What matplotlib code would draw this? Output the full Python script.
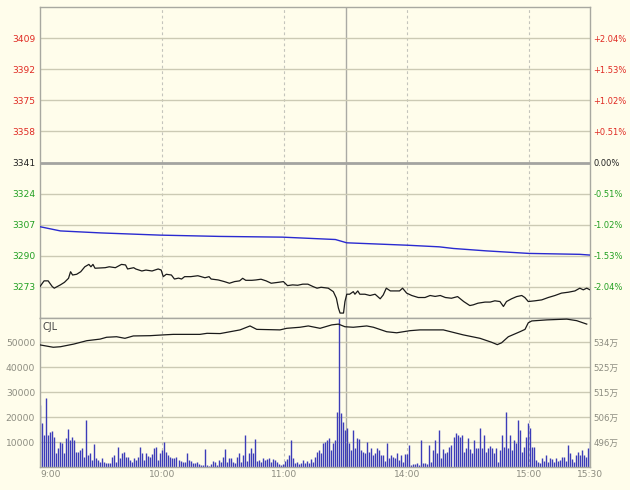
import matplotlib
matplotlib.use('Agg')
import matplotlib.pyplot as plt
import numpy as np

# ---------------- data ----------------
price_ticks = [3409, 3392, 3375, 3358, 3341, 3324, 3307, 3290, 3273]
price_tick_labels = ['3409', '3392', '3375', '3358', '3341', '3324', '3307', '3290', '3273']
pct_tick_labels = ['+2.04%', '+1.53%', '+1.02%', '+0.51%', '0.00%', '-0.51%', '-1.02%', '-1.53%', '-2.04%']
prev_close = 3341

time_ticks = [0, 60, 120, 180, 240, 270]
time_labels = ['9:00', '10:00', '11:00', '14:00', '15:00', '15:30']
session_break = 150

price_t = [0, 2, 4, 6, 7, 10, 12, 14, 15, 16, 18, 20, 22, 24, 25, 26, 27, 32, 34, 37,
           40, 42, 43, 46, 47, 50, 52, 55, 58, 59.5, 60.5, 62, 64.5, 66, 68, 69.5, 71, 74,
           77.5, 81, 83, 84, 87.5, 90.5, 93, 95.5, 98, 99.5, 101, 104, 106, 108.5, 111,
           113.5, 117, 119.5, 121.5, 124, 126.5, 129, 131.5, 134, 136, 138, 141.5, 144,
           145.5, 146.5, 147.3, 149, 149.7, 150.6, 152, 153.8, 154.6, 156, 157, 159.5, 162,
           164.5, 167, 168.5, 170, 172, 174.5, 176.5, 178, 180, 182.5, 185.7, 189, 191.5,
           194, 196.5, 199, 202, 205, 208, 211, 212.7, 215, 218.5, 221, 223.3, 225.8, 227.5,
           229, 231.5, 234, 236.5, 238, 239.7, 243, 246.3, 249.5, 252.8, 256, 259.4, 262.6,
           265, 266.7, 268.4, 270]
price = [3273.2, 3276.3, 3276.3, 3273.2, 3272.3, 3274.1, 3275.5, 3277.7, 3281.3, 3279.5,
         3279.9, 3281.3, 3284.0, 3285.3, 3284.0, 3285.3, 3283.2, 3283.5, 3284.0, 3283.5,
         3285.3, 3285.0, 3282.8, 3283.5, 3282.8, 3281.7, 3282.2, 3281.7, 3282.8, 3282.2,
         3278.6, 3279.9, 3279.5, 3277.3, 3277.8, 3277.3, 3278.6, 3278.6, 3279.1, 3278.0,
         3278.6, 3277.3, 3276.8, 3275.9, 3275.0, 3275.9, 3276.3, 3277.7, 3276.6, 3276.6,
         3276.8, 3277.2, 3276.3, 3275.0, 3275.5, 3275.9, 3273.7, 3274.1, 3273.9, 3274.5,
         3274.5, 3273.2, 3272.3, 3272.8, 3272.3, 3270.4, 3266.8, 3261.4, 3258.7, 3258.7,
         3265.0, 3269.0, 3269.0, 3270.4, 3269.0, 3270.8, 3269.0, 3269.0, 3268.3, 3269.0,
         3266.5, 3268.6, 3272.3, 3270.8, 3270.8, 3270.8, 3272.3, 3269.6, 3268.3, 3267.2,
         3267.2, 3268.3, 3267.8, 3268.3, 3267.2, 3266.8, 3267.7, 3265.0, 3262.8, 3263.2,
         3264.1, 3264.7, 3264.7, 3265.4, 3265.0, 3262.3, 3265.0, 3266.5, 3267.7, 3268.3,
         3267.2, 3265.0, 3265.4, 3265.9, 3267.2, 3268.3, 3269.6, 3270.1, 3270.8, 3272.3,
         3271.4, 3272.3, 3271.4]

avg_t = [0, 10, 30, 59, 88, 119, 145, 150.6, 180, 196, 203, 219, 240, 265, 270]
avg_price = [3305.9, 3303.6, 3302.5, 3301.3, 3300.6, 3300.2, 3298.9, 3297.1, 3295.8,
             3294.9, 3294.0, 3292.7, 3291.3, 3290.8, 3290.4]

volume = [24800, 17500, 12800, 27500, 12800, 14100, 14500, 12100, 5500, 7500,
          10100, 9500, 5500, 11500, 15100, 10800, 12100, 10800, 6100, 6100,
          6800, 7500, 4100, 18800, 4800, 5500, 2800, 9200, 3500, 2800,
          2100, 3500, 2100, 1500, 1700, 1500, 4100, 4800, 2100, 7900,
          3500, 5500, 6100, 4100, 4100, 2800, 2100, 3500, 2800, 4100,
          7900, 5500, 2800, 5700, 4400, 4100, 5200, 7500, 8100, 2800,
          5500, 6800, 10100, 6100, 4800, 4100, 3500, 3500, 4100, 2800,
          2500, 2100, 2100, 5500, 2800, 2500, 1700, 1500, 2100, 1200,
          800, 800, 7100, 800, 400, 1200, 2500, 2100, 800, 2800,
          2100, 4100, 7100, 2100, 3500, 3500, 2100, 1500, 4100, 5500,
          2100, 4800, 12800, 2500, 5500, 7500, 5500, 11100, 2500, 2800,
          2100, 3500, 2800, 3100, 3500, 2100, 3100, 2800, 2100, 1200,
          800, 1200, 2500, 3100, 4800, 10800, 3500, 1700, 2100, 1200,
          1700, 2800, 1700, 2500, 1700, 3100, 2100, 4100,
          6100, 6800, 5500, 9500, 10100, 10800, 11500, 6800, 9500, 10800,
          22100, 65000, 21500, 18100, 14800, 15500, 9500, 6800, 14800, 7500,
          11500, 11100, 6800, 6100, 5500, 10100, 6100, 7500, 4800, 5500,
          7500, 6800, 4800, 4800, 2500, 9500, 3500, 4800, 4100, 3500,
          5500, 2800, 4800, 2100, 5200, 5100, 8800, 800, 1200, 1200,
          1500, 800, 10800, 1500, 1500, 1200, 8800, 2100, 6800, 10800,
          5700, 14800, 3500, 7100, 5500, 6100, 8100, 8800, 12100, 13500,
          12800, 12100, 12800, 6100, 7500, 11500, 7100, 5500, 10800, 7500,
          7500, 15500, 7500, 12800, 6100, 7500, 8400, 7500, 5700, 7500,
          2100, 6800, 12800, 8100, 22100, 7500, 12800, 6800, 10800, 9500,
          18800, 14800, 6100, 8100, 12100, 17500, 15500, 8100, 8100, 2800,
          2100, 1700, 3500, 2500, 4800, 2100, 3500, 3100, 2100, 3500,
          2500, 2800, 4100, 4100, 2500, 8800, 5500, 3100, 2100, 4800,
          6100, 4800, 6800, 4800, 4100, 7500, 10100]

vol_ticks = [10000, 20000, 30000, 40000, 50000]
vol_tick_labels = ['10000', '20000', '30000', '40000', '50000']

oi_t = [0, 6.5, 10, 16.5, 23, 29.5, 32.7, 37.6, 41.7, 45.8, 54, 60.5, 65.4, 78.5, 82,
        88.4, 98.2, 103.1, 106.4, 117.8, 121.1, 127.6, 131.7, 137.5, 143.2, 146.5, 149.7,
        153.8, 160.4, 163.7, 170.2, 175.1, 181.6, 186.5, 198, 207.8, 216, 221.7, 224.5,
        226.6, 229.9, 235.6, 238.1, 239.7, 241.4, 248.8, 258.6, 263.5, 268.4]
oi = [532.9, 532.0, 532.2, 533.2, 534.5, 535.1, 535.8, 536.0, 535.4, 536.3, 536.4, 536.7,
      536.9, 536.9, 537.3, 537.2, 538.6, 540.1, 538.8, 538.6, 539.2, 539.6, 540.1, 539.2,
      540.5, 540.8, 539.8, 539.6, 540.1, 539.6, 537.9, 537.5, 538.3, 538.6, 538.6, 536.7,
      535.4, 533.9, 533.0, 533.7, 536.0, 537.9, 538.8, 541.3, 542.0, 542.4, 542.7, 542.1,
      540.8]
oi_ticks = [496.0, 505.5, 515.0, 524.5, 534.0]
oi_tick_labels = ['496万', '506万', '515万', '525万', '534万']

# ---------------- style ----------------
BG = '#fffdeb'
GRID = '#cccab4'
BORDER = '#a8a8a0'
RED = '#e02a22'
GREEN = '#22a022'
GRAYTXT = '#8c8c80'
FS = 6.6

W, H = 630, 490
fig = plt.figure(figsize=(W / 100, H / 100), dpi=100, facecolor=BG)

ax = fig.add_axes([40 / W, 1 - 318 / H, 550 / W, 311 / H])
axv = fig.add_axes([40 / W, 1 - 467 / H, 550 / W, 149 / H])

for a in (ax, axv):
    a.set_facecolor(BG)
    a.set_xlim(0, 270)
    for s in a.spines.values():
        s.set_color(BORDER)
        s.set_linewidth(1.0)
    for t in time_ticks[1:-1]:
        a.axvline(t, color='#c4c4bc', lw=0.8, ls=(0, (2.5, 2.5)), zorder=1)
    a.axvline(session_break, color='#aaaaa4', lw=1.0, zorder=1)

# ---- price panel ----
ax.set_ylim(prev_close - 85, prev_close + 85)
ax.set_yticks(price_ticks)
ax.set_yticklabels(price_tick_labels)
ax.tick_params(axis='y', length=0, pad=3.5, labelsize=FS)
ax.set_xticks([])
for tl, v in zip(ax.get_yticklabels(), price_ticks):
    tl.set_color(RED if v > prev_close else (GREEN if v < prev_close else '#222222'))
for v in price_ticks:
    if v == prev_close:
        ax.axhline(v, color='#a4a4a0', lw=2.0, zorder=1)
    else:
        ax.axhline(v, color=GRID, lw=1.0, zorder=1)

axr = ax.twinx()
axr.set_ylim(ax.get_ylim())
axr.set_yticks(price_ticks)
axr.set_yticklabels(pct_tick_labels)
axr.tick_params(axis='y', length=0, pad=2.5, labelsize=6.0)
for tl, v in zip(axr.get_yticklabels(), price_ticks):
    tl.set_color(RED if v > prev_close else (GREEN if v < prev_close else '#222222'))
for s in axr.spines.values():
    s.set_visible(False)

ax.plot(avg_t, avg_price, color='#2a2ad0', lw=1.0, zorder=3)
ax.plot(price_t, price, color='#1a1a1a', lw=0.9, zorder=4)

# ---- volume panel ----
vol_x = np.linspace(0, 270, len(volume))
axv.set_ylim(0, 59600)
axv.vlines(vol_x, 0, volume, colors='#3c3cb8', lw=1.0, zorder=2)
axv.set_yticks(vol_ticks)
axv.set_yticklabels(vol_tick_labels)
axv.tick_params(axis='y', length=0, pad=3.5, labelsize=FS, colors=GRAYTXT)
for v in vol_ticks:
    axv.axhline(v, color=GRID, lw=1.0, zorder=1)
axv.set_xticks(time_ticks)
axv.set_xticklabels(time_labels)
axv.tick_params(axis='x', length=0, pad=2.5, labelsize=FS, colors=GRAYTXT)
axv.get_xticklabels()[0].set_horizontalalignment('left')
axv.text(0.004, 0.97, 'CJL', transform=axv.transAxes, ha='left', va='top',
         fontsize=FS + 0.4, color='#444444')

axo = axv.twinx()
axo.set_ylim(486.5, 486.5 + 149 * 0.38)
axo.set_yticks(oi_ticks)
axo.set_yticklabels(oi_tick_labels, family=['DejaVu Sans', 'Noto Sans CJK SC'])
axo.tick_params(axis='y', length=0, pad=2.5, labelsize=6.2, colors=GRAYTXT)
for s in axo.spines.values():
    s.set_visible(False)
axo.plot(oi_t, oi, color='#1a1a1a', lw=0.9, zorder=4)

fig.savefig('out.png', dpi=100, facecolor=BG)
